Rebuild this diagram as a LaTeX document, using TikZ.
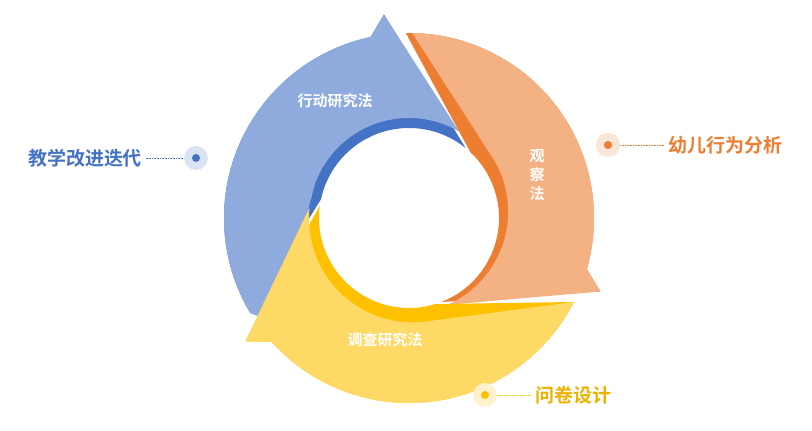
\documentclass[tikz,border=0pt]{standalone}
\usepackage{fontspec}
\newfontfamily\cjk{Noto Sans CJK SC}[BoldFont={Noto Sans CJK SC Bold}]
\definecolor{bl}{HTML}{8FAADC}\definecolor{bd}{HTML}{4472C4}
\definecolor{ol}{HTML}{F4B183}\definecolor{od}{HTML}{ED7D31}
\definecolor{yl}{HTML}{FFD966}\definecolor{yd}{HTML}{FFC000}
\definecolor{yt}{HTML}{F0B000}
\begin{document}
\begin{tikzpicture}[x=1pt,y=1pt,font=\cjk\bfseries,
  inl/.style={text=white,font=\cjk\bfseries\fontsize{15}{19}\selectfont},
  side/.style={font=\cjk\bfseries\fontsize{19}{21}\selectfont},
  lead/.style={densely dotted,line width=0.6pt}]
\useasboundingbox (0,0) rectangle (812,431);
\def\seg#1#2#3#4#5#6{% color, oA, iA, oB, iB, inner r
 \fill[#1] ([shift={(#2-6:185)}]409,213) arc[start angle=#2-6,end angle=#4+5,radius=185]
   -- ([shift={(#4:205)}]409,213) -- ([shift={(#5:#6)}]409,213)
   arc[start angle=#5,end angle=#3-4,radius=#6] -- cycle;}
% blue
\seg{bd}{217}{172}{97}{51}{90}
\fill[bl] ([shift={(211:185)}]409,213) arc[start angle=211,end angle=102,radius=185]
  -- ([shift={(97:205)}]409,213) -- ([shift={(60:100)}]409,213)
  arc[start angle=60,end angle=160,radius=100] -- ([shift={(195:115)}]409,213) -- ([shift={(213:180)}]409,213) -- cycle;
% orange
\seg{od}{97}{51}{-21}{-69}{90}
\fill[ol] ([shift={(89:185)}]409,213) arc[start angle=89,end angle=-16,radius=185]
  -- ([shift={(-21:205)}]409,213) -- ([shift={(-66:95)}]409,213)
  arc[start angle=-66,end angle=30,radius=102] -- cycle;
% yellow
\seg{yd}{-21}{-69}{-143}{-188}{90}
\fill[yl] ([shift={(-27:185)}]409,213) arc[start angle=-27,end angle=-138,radius=185]
  -- ([shift={(-143:205)}]409,213) -- ([shift={(-186:100)}]409,213)
  arc[start angle=-186,end angle=-80,radius=104] -- cycle;
\node[inl] (t1) at (335,330) {行动研究法};
\node[inl,align=center] (t2) at (537,256) {观\\察\\法};
\node[inl] (t3) at (385,91) {调查研究法};
% side labels
\node[circle,fill=bd!20,minimum size=24pt,inner sep=0] (d1) at (196,273) {};
\fill[bd] (d1) circle (4);
\node[side,text=bd] (l1) at (85,273) {教学改进迭代};
\draw[lead,bd] (l1.east) -- (d1.west);
\node[circle,fill=od!20,minimum size=24pt,inner sep=0] (d2) at (608,286) {};
\fill[od] (d2) circle (4);
\node[side,text=od] (l2) at (725,286) {幼儿行为分析};
\draw[lead,od] (d2.east) -- (l2.west);
\node[circle,fill=yd!20,minimum size=24pt,inner sep=0] (d3) at (485,36) {};
\fill[yd] (d3) circle (4);
\node[side,text=yt] (l3) at (573,36) {问卷设计};
\draw[lead,yd] (d3.east) -- (l3.west);
\end{tikzpicture}
\end{document}
